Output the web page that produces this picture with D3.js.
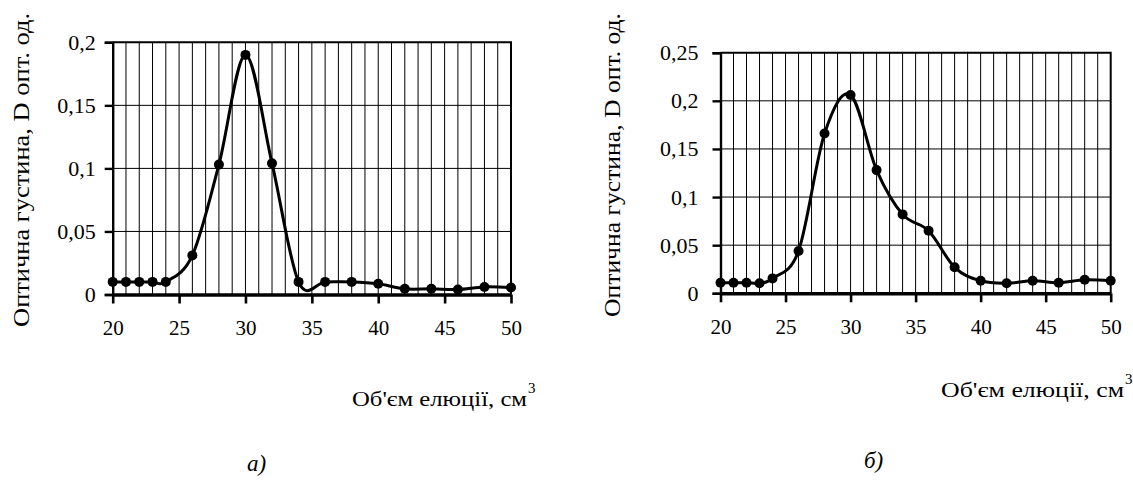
<!DOCTYPE html>
<html>
<head>
<meta charset="utf-8">
<script src="https://cdn.jsdelivr.net/npm/d3@7"></script>
</head>
<body style="margin:0">
<script>
const volume = [20, 21, 22, 23, 24, 26, 28, 30, 32, 34, 36, 38, 40, 42, 44, 46, 48, 50];
const densityA = [0.01, 0.01, 0.01, 0.01, 0.01, 0.031, 0.103, 0.19, 0.104, 0.01, 0.01, 0.01, 0.0085, 0.0045, 0.0045, 0.004, 0.006, 0.0055];
const densityB = [0.011, 0.011, 0.011, 0.0105, 0.0155, 0.044, 0.166, 0.206, 0.128, 0.082, 0.065, 0.027, 0.013, 0.0105, 0.013, 0.011, 0.014, 0.013];
const xTicks = [20, 25, 30, 35, 40, 45, 50];
const yTicksA = [0, 0.05, 0.1, 0.15, 0.2];
const yTicksB = [0, 0.05, 0.1, 0.15, 0.2, 0.25];
const yTitle = "Оптична густина, D опт. од.";
const xTitle = "Об'єм елюції, см";
const captions = ["а)", "б)"];

const font = '"Liberation Serif"';
const svg = d3.select("body").append("svg").attr("width", 1133).attr("height", 480);

const fmt = d => String(d).replace(".", ",");

function panel(values, yTicks, box, caption) {
  const x = d3.scaleLinear().domain([20, 50]).range([box.left, box.right]);
  const y = d3.scaleLinear().domain([0, d3.max(yTicks)]).range([box.bottom, box.top]);
  const g = svg.append("g");

  // grid: a vertical line every 1 cm3, horizontal at each y tick
  g.append("g").selectAll("line").data(d3.range(21, 50))
    .join("line")
    .attr("x1", d => x(d)).attr("x2", d => x(d))
    .attr("y1", y.range()[0]).attr("y2", y.range()[1])
    .attr("stroke", "#000").attr("stroke-width", 1);
  g.append("g").selectAll("line").data(yTicks.slice(1, -1))
    .join("line")
    .attr("x1", box.left).attr("x2", box.right)
    .attr("y1", d => y(d)).attr("y2", d => y(d))
    .attr("stroke", "#000").attr("stroke-width", 1);

  // frame top + right
  g.append("path")
    .attr("d", `M${box.left},${box.top}H${box.right}V${box.bottom}`)
    .attr("fill", "none").attr("stroke", "#000").attr("stroke-width", 2);

  g.append("g")
    .attr("transform", `translate(${box.left},0)`)
    .call(d3.axisLeft(y).tickValues(yTicks).tickFormat(fmt).tickSize(8).tickPadding(box.ypad))
    .call(a => a.selectAll("line, path").attr("stroke", "#000").attr("stroke-width", 2.4))
    .call(a => a.selectAll("text").style("font-family", font).attr("font-size", 22).attr("fill", "#000"));

  g.append("g")
    .attr("transform", `translate(0,${box.bottom})`)
    .call(d3.axisBottom(x).tickValues(xTicks).tickSize(9).tickPadding(17).tickSizeOuter(0))
    .call(a => a.select(".domain").attr("stroke-width", 3.5))
    .call(a => a.selectAll(".tick line").attr("stroke-width", 2.6))
    .call(a => a.selectAll("text").style("font-family", font).attr("font-size", 21).attr("fill", "#000"));

  const line = d3.line()
    .x((d, i) => x(volume[i]))
    .y(d => y(d))
    .curve(d3.curveCardinal.tension(0));

  g.append("path")
    .datum(values)
    .attr("fill", "none")
    .attr("stroke", "#000")
    .attr("stroke-width", 3)
    .attr("stroke-linejoin", "round")
    .attr("d", line);

  g.append("g").selectAll("circle").data(values)
    .join("circle")
    .attr("cx", (d, i) => x(volume[i]))
    .attr("cy", d => y(d))
    .attr("r", 5)
    .attr("fill", "#000");

  // axis titles
  g.append("text")
    .attr("transform", `translate(${box.ytx},${box.yty}) rotate(-90)`)
    .attr("text-anchor", "middle")
    .style("font-family", font).attr("font-size", 23)
    .attr("textLength", box.ytlen)
    .attr("lengthAdjust", "spacingAndGlyphs")
    .text(yTitle);

  g.append("text")
    .attr("x", box.xtx).attr("y", box.xty)
    .style("font-family", font).attr("font-size", 21)
    .attr("textLength", box.xtlen)
    .attr("lengthAdjust", "spacingAndGlyphs")
    .text(xTitle);
  g.append("text")
    .attr("x", box.xtx + box.xtlen + 1).attr("y", box.xty - 13)
    .style("font-family", font).attr("font-size", 15)
    .text("3");

  g.append("text")
    .attr("x", box.capx).attr("y", box.capy)
    .style("font-family", font).attr("font-size", 23).style("font-style", "italic")
    .text(caption);
}

panel(densityA, yTicksA, {
  left: 112.7, right: 511, top: 42.3, bottom: 294.5, ypad: 9,
  ytx: 29, yty: 170, ytlen: 314,
  xtx: 352, xty: 406, xtlen: 175,
  capx: 247, capy: 471
}, captions[0]);

panel(densityB, yTicksB, {
  left: 720.5, right: 1110.7, top: 52.7, bottom: 293.3, ypad: 14,
  ytx: 620, yty: 165, ytlen: 304,
  xtx: 941, xty: 397, xtlen: 183,
  capx: 864, capy: 468
}, captions[1]);
</script>
</body>
</html>
